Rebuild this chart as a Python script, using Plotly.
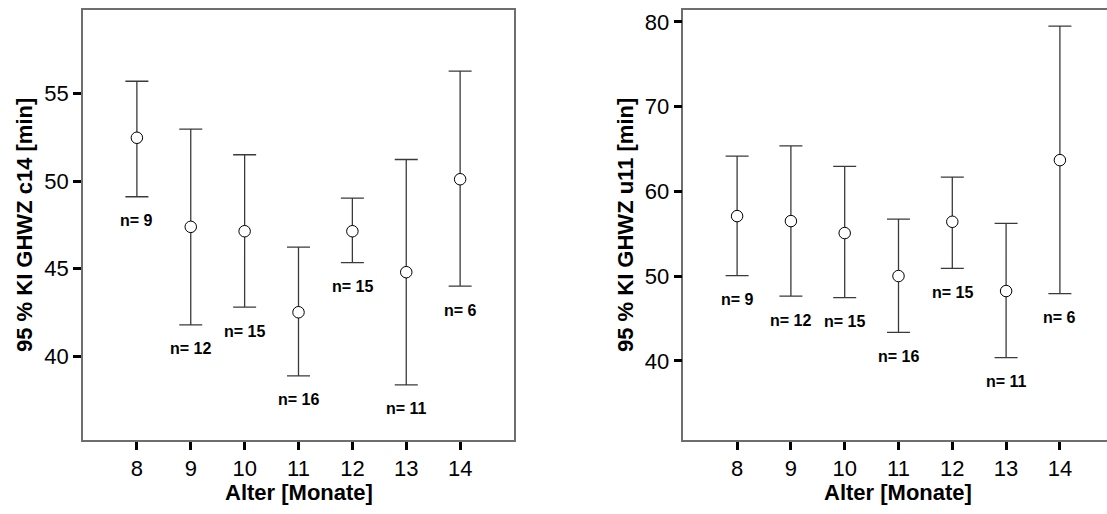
import plotly.graph_objects as go

# ---- data ----
ages = [8, 9, 10, 11, 12, 13, 14]
n_labels = ["n= 9", "n= 12", "n= 15", "n= 16", "n= 15", "n= 11", "n= 6"]

c14_mean = [52.47, 47.38, 47.13, 42.50, 47.13, 44.79, 50.10]
c14_lower = [49.10, 41.78, 42.79, 38.87, 45.34, 38.35, 43.99]
c14_upper = [55.70, 52.96, 51.50, 46.22, 49.02, 51.23, 56.28]

u11_mean = [57.09, 56.50, 55.09, 50.02, 56.42, 48.25, 63.69]
u11_lower = [50.06, 47.66, 47.47, 43.38, 50.92, 40.39, 47.94]
u11_upper = [64.17, 65.38, 62.95, 56.74, 61.69, 56.23, 79.49]

left_yticks = [40, 45, 50, 55]
right_yticks = [40, 50, 60, 70, 80]
y_title_left = "95 % KI GHWZ c14 [min]"
y_title_right = "95 % KI GHWZ u11 [min]"
x_title = "Alter [Monate]"

W, H = 1107, 514
FONT = "Arial, Liberation Sans, sans-serif"
LINE = "#3a3a3a"

fig = go.Figure()


def add_panel(mean, lower, upper, xa, ya):
    fig.add_trace(go.Scatter(
        x=ages, y=mean, mode="markers", xaxis=xa, yaxis=ya,
        marker=dict(symbol="circle", size=11.5, color="white",
                    line=dict(color="black", width=1)),
        error_y=dict(type="data", symmetric=False,
                     array=[u - m for u, m in zip(upper, mean)],
                     arrayminus=[m - l for m, l in zip(mean, lower)],
                     color=LINE, thickness=1.3, width=11.5),
        showlegend=False, hoverinfo="skip"))
    xref = "x" if xa == "x" else "x2"
    yref = "y" if ya == "y" else "y2"
    for a, lo, lab in zip(ages, lower, n_labels):
        fig.add_annotation(x=a, y=lo, xref=xref, yref=yref, text=lab,
                           showarrow=False, yshift=-24,
                           font=dict(family=FONT, size=16, color="black",
                                     weight="bold"))


add_panel(c14_mean, c14_lower, c14_upper, "x", "y")
add_panel(u11_mean, u11_lower, u11_upper, "x2", "y2")

ydom = [74 / H, (H - 9.5) / H]
axis_common = dict(
    showgrid=False, zeroline=False, showline=True, linecolor="#6e6e6e",
    linewidth=1.5, ticks="outside", ticklen=8, tickwidth=2.5,
    tickcolor="black", tickfont=dict(family=FONT, size=22, color="black"),
)

px_per_unit = 53.8
right_left_px = 683.3

fig.update_layout(
    width=W, height=H, margin=dict(l=0, r=0, t=0, b=0),
    paper_bgcolor="white", plot_bgcolor="white",
    xaxis=dict(domain=[83 / W, 514 / W], range=[7, 15], tickvals=ages,
               mirror=True, anchor="y", **axis_common),
    yaxis=dict(domain=ydom, range=[35.2, 59.8], tickvals=left_yticks,
               mirror=True, anchor="x", **axis_common),
    xaxis2=dict(domain=[right_left_px / W, 1.0],
                range=[7, 7 + (W - right_left_px) / px_per_unit],
                tickvals=ages, mirror=True, anchor="y2", **axis_common),
    yaxis2=dict(domain=ydom, range=[30.68, 81.46], tickvals=right_yticks,
                mirror=False, anchor="x2", **axis_common),
)

title_font = dict(family=FONT, size=22, color="black", weight="bold")
# x titles
fig.add_annotation(x=298.5 / W, y=(H - 492) / H, xref="paper", yref="paper",
                   text=x_title, showarrow=False, font=title_font,
                   xanchor="center", yanchor="middle")
fig.add_annotation(x=898 / W, y=(H - 492) / H, xref="paper", yref="paper",
                   text=x_title, showarrow=False, font=title_font,
                   xanchor="center", yanchor="middle")
# y titles
fig.add_annotation(x=24 / W, y=(H - 225) / H, xref="paper", yref="paper",
                   text=y_title_left, showarrow=False, font=title_font,
                   textangle=-90, xanchor="center", yanchor="middle")
fig.add_annotation(x=625 / W, y=(H - 225) / H, xref="paper", yref="paper",
                   text=y_title_right, showarrow=False, font=title_font,
                   textangle=-90, xanchor="center", yanchor="middle")

fig.write_html("out.html")
